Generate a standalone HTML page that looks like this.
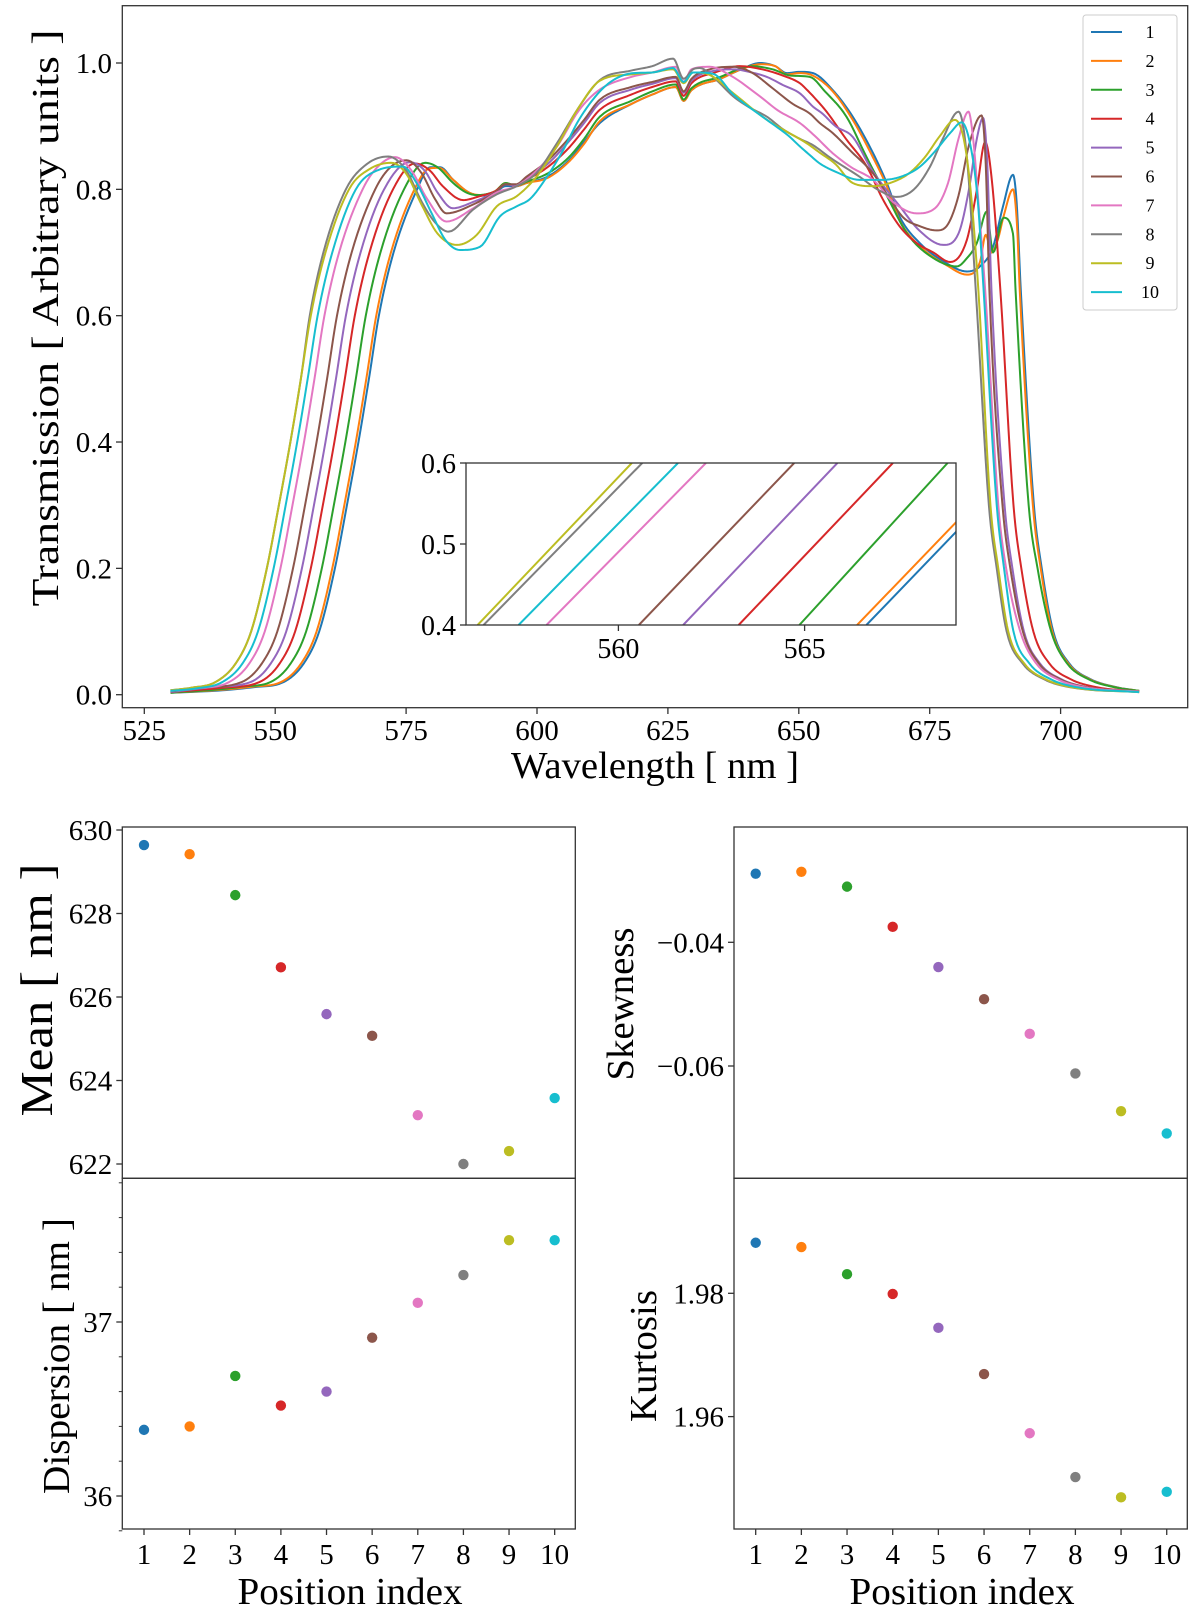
<!DOCTYPE html>
<html><head><meta charset="utf-8"><style>
html,body{margin:0;padding:0;background:#fff;}
svg{display:block;font-family:"Liberation Serif","DejaVu Serif",serif;}
</style></head><body>
<svg id="fig" xmlns="http://www.w3.org/2000/svg" width="1200" height="1618" viewBox="0 0 1200 1618">
<defs>
<clipPath id="mainClip"><rect x="122.3" y="5.7" width="1065.4" height="702"/></clipPath>
<clipPath id="insetClip"><rect x="466" y="463" width="490" height="162"/></clipPath>
</defs>
<g id="mainG"></g>
<g id="insetG"></g>
<g id="lowG"></g>
</svg>
<script>
const colors=["#1f77b4","#ff7f0e","#2ca02c","#d62728","#9467bd","#8c564b","#e377c2","#7f7f7f","#bcbd22","#17becf"];
const seriesNames=["1","2","3","4","5","6","7","8","9","10"];
const s1=[[530,0.003],[540,0.007],[546,0.012],[551.6,0.02],[555.5,0.05],[558.4,0.1],[561.4,0.2],[563.7,0.3],[565.9,0.4],[567.9,0.5],[569.8,0.6],[572.6,0.7],[577.1,0.8],[579.6,0.835],[581.5,0.835],[584,0.815],[587,0.795],[589.5,0.79],[592,0.795],[594,0.805],[596,0.805],[598,0.81],[602,0.82],[606,0.845],[609,0.875],[612,0.905],[618,0.935],[622,0.95],[626.5,0.962],[628,0.94],[629.5,0.957],[635,0.975],[639,0.99],[642.6,1.0],[645.5,0.995],[647.7,0.984],[650.2,0.986],[652.7,0.984],[656.5,0.957],[660.3,0.915],[664.2,0.857],[666.8,0.81],[669.3,0.756],[673.1,0.715],[678.2,0.683],[682.1,0.67],[684.6,0.678],[687.1,0.709],[689,0.773],[690.9,0.823],[691.6,0.78],[692.4,0.64],[694.9,0.3],[696.4,0.2],[698.6,0.1],[701.6,0.05],[705.6,0.025],[710.6,0.012],[715,0.006]];
const s2=[[530,0.003],[540,0.008],[546,0.013],[551.1,0.02],[555,0.05],[557.9,0.1],[560.9,0.2],[563.2,0.3],[565.4,0.4],[567.4,0.5],[569.3,0.6],[572.1,0.7],[576.6,0.8],[579.4,0.833],[581.3,0.834],[584,0.815],[587,0.795],[589.5,0.791],[592,0.797],[594,0.81],[596,0.805],[598,0.81],[602,0.818],[606,0.843],[609,0.872],[612,0.908],[618,0.935],[622,0.95],[626.5,0.962],[628,0.94],[629.5,0.957],[635,0.975],[639,0.99],[642.6,0.998],[645.5,0.995],[647.7,0.982],[650.2,0.984],[652.7,0.98],[656.5,0.955],[660.3,0.91],[664.2,0.85],[666.8,0.805],[669.3,0.75],[673.1,0.71],[678.2,0.68],[682.1,0.665],[684.6,0.685],[685.7,0.728],[686.8,0.70],[688,0.72],[689.2,0.76],[690.9,0.80],[691.7,0.74],[692.2,0.64],[694.7,0.3],[696.2,0.2],[698.4,0.1],[701.4,0.05],[705.4,0.025],[710.4,0.012],[715,0.006]];
const s3=[[530,0.003],[540,0.009],[544,0.013],[549.1,0.02],[553,0.05],[555.9,0.1],[558.9,0.2],[561.2,0.3],[563.4,0.4],[565.4,0.5],[567.3,0.6],[570.1,0.7],[574.6,0.8],[578.6,0.842],[581,0.835],[584,0.81],[586.5,0.795],[588.5,0.791],[592,0.797],[594,0.81],[596,0.806],[598,0.812],[602,0.825],[606,0.85],[609,0.88],[612,0.915],[618,0.94],[622,0.955],[626.5,0.966],[628,0.942],[629.5,0.96],[635,0.978],[641,0.995],[645,0.99],[648.5,0.98],[652.1,0.978],[655,0.955],[659.1,0.915],[663,0.85],[666.8,0.79],[670.7,0.73],[675,0.695],[680.2,0.678],[682,0.69],[684,0.715],[685.9,0.765],[687.1,0.70],[689.1,0.755],[690.9,0.73],[691.4,0.64],[693.9,0.3],[695.6,0.2],[698.2,0.1],[701.2,0.05],[705.2,0.025],[710.2,0.012],[715,0.006]];
const s4=[[530,0.004],[540,0.011],[547,0.02],[550.9,0.05],[553.8,0.1],[556.8,0.2],[559.1,0.3],[561.3,0.4],[563.3,0.5],[565.2,0.6],[568,0.7],[572.5,0.8],[576.7,0.841],[579.5,0.83],[582,0.805],[585.9,0.783],[589,0.789],[592,0.797],[594,0.808],[596,0.806],[598,0.815],[602,0.835],[606,0.865],[609,0.895],[612,0.926],[618,0.95],[622,0.962],[626.5,0.971],[628,0.948],[629.5,0.968],[634,0.985],[638.7,0.995],[643,0.99],[647,0.98],[650.2,0.968],[651.5,0.958],[653,0.945],[655.3,0.923],[659,0.88],[663,0.836],[666,0.785],[669.3,0.741],[672.5,0.715],[675.7,0.70],[678.9,0.685],[682.1,0.72],[684,0.799],[685.6,0.875],[686.8,0.82],[688.5,0.64],[691,0.3],[692.5,0.2],[694.8,0.1],[697.8,0.05],[701.8,0.025],[706.8,0.012],[715,0.005]];
const s5=[[530,0.004],[538,0.012],[545.3,0.02],[549.2,0.05],[552.1,0.1],[555.1,0.2],[557.4,0.3],[559.6,0.4],[561.6,0.5],[563.5,0.6],[566.3,0.7],[570.8,0.8],[575.7,0.843],[578.5,0.83],[581,0.795],[583.9,0.77],[587.8,0.78],[592.3,0.797],[594,0.808],[596,0.806],[598,0.818],[602,0.84],[606,0.875],[609,0.905],[612,0.937],[618,0.958],[622,0.967],[626.5,0.976],[628,0.953],[629.5,0.972],[634,0.988],[637.5,0.99],[641,0.985],[643.9,0.978],[647,0.965],[650.2,0.952],[652.7,0.931],[654.5,0.92],[657,0.90],[660.3,0.883],[664,0.83],[669.3,0.773],[673,0.735],[677.6,0.712],[680.5,0.73],[682.5,0.80],[684,0.88],[685.2,0.913],[686,0.84],[686.8,0.64],[689.3,0.3],[690.8,0.2],[693,0.1],[696,0.05],[700,0.025],[705,0.012],[715,0.005]];
const s6=[[530,0.005],[536,0.011],[543.6,0.02],[547.5,0.05],[550.4,0.1],[553.4,0.2],[555.7,0.3],[557.9,0.4],[559.9,0.5],[561.8,0.6],[564.6,0.7],[569.1,0.8],[572,0.835],[575.1,0.846],[578,0.825],[580.5,0.785],[582.7,0.762],[587.8,0.776],[592.3,0.797],[594,0.808],[596,0.808],[598,0.82],[602,0.845],[606,0.88],[609,0.91],[612,0.942],[618,0.962],[622,0.97],[626.5,0.978],[628,0.955],[629.5,0.975],[633,0.99],[637.5,0.994],[641,0.985],[645,0.96],[648.9,0.935],[652.1,0.92],[654,0.905],[656.5,0.889],[660,0.86],[664.2,0.825],[667,0.79],[670,0.755],[673,0.742],[676.3,0.735],[678.5,0.745],[680.5,0.79],[682.5,0.87],[684.9,0.917],[685.7,0.84],[686.4,0.64],[688.9,0.3],[690.4,0.2],[692.8,0.1],[695.8,0.05],[699.8,0.025],[704.8,0.012],[715,0.005]];
const s7=[[530,0.006],[535,0.01],[541.2,0.02],[545.1,0.05],[548,0.1],[551,0.2],[553.3,0.3],[555.5,0.4],[557.5,0.5],[559.4,0.6],[562.2,0.7],[566.7,0.8],[569.5,0.835],[572.9,0.851],[576,0.83],[579,0.785],[582.7,0.749],[587.8,0.77],[592.3,0.795],[596,0.805],[600,0.83],[604,0.87],[608,0.925],[612,0.958],[618,0.978],[622,0.985],[626.5,0.994],[628,0.97],[629.5,0.99],[633,0.994],[637,0.98],[642.6,0.947],[646,0.925],[650.2,0.905],[653,0.885],[656.5,0.857],[660,0.835],[664.2,0.815],[668,0.78],[672.5,0.762],[676,0.77],[678.5,0.81],[680.5,0.88],[682.4,0.923],[683.3,0.88],[684.3,0.78],[685.6,0.64],[688.1,0.3],[689.6,0.2],[692.3,0.1],[695.3,0.05],[699.3,0.025],[704.3,0.012],[715,0.005]];
const s8=[[530,0.007],[534,0.011],[538.6,0.02],[542.5,0.05],[545.4,0.1],[548.4,0.2],[550.7,0.3],[552.9,0.4],[554.9,0.5],[556.6,0.6],[559.2,0.7],[563.5,0.8],[567.5,0.84],[571.6,0.852],[575,0.83],[578,0.78],[580.5,0.748],[583.1,0.733],[587.8,0.768],[592.3,0.792],[596.1,0.805],[599.9,0.826],[603.8,0.873],[608,0.93],[612,0.973],[618,0.988],[622,0.995],[626,1.007],[628,0.975],[629.8,0.99],[631.1,0.992],[634,0.975],[637.5,0.947],[640.5,0.93],[643.9,0.915],[647,0.895],[650.2,0.88],[652.7,0.87],[656,0.85],[661.6,0.82],[665,0.80],[668.7,0.788],[672,0.80],[675,0.835],[677.5,0.88],[680.5,0.923],[682,0.86],[683.8,0.64],[686.3,0.3],[687.8,0.2],[689.7,0.1],[692.7,0.05],[696.7,0.025],[701.7,0.012],[715,0.004]];
const s9=[[530,0.007],[534,0.011],[538.6,0.02],[542.5,0.05],[545.4,0.1],[548.4,0.2],[550.7,0.3],[552.9,0.4],[554.9,0.5],[556.8,0.6],[559.6,0.7],[564.1,0.8],[568,0.832],[572.2,0.842],[575,0.825],[578,0.775],[581,0.73],[584.7,0.712],[588.5,0.728],[592.3,0.773],[596.1,0.789],[599.9,0.82],[603.8,0.868],[608,0.93],[612,0.972],[618,0.982],[622,0.985],[626,0.99],[628,0.968],[629.8,0.985],[633,0.981],[637.5,0.952],[643.9,0.91],[648,0.89],[651.5,0.873],[654,0.858],[657,0.84],[660.3,0.81],[664,0.805],[667.4,0.81],[671,0.825],[674,0.85],[677,0.885],[679.8,0.91],[681.5,0.88],[682.8,0.80],[684.3,0.64],[686.6,0.3],[688.1,0.2],[690,0.1],[693,0.05],[697,0.025],[702,0.012],[715,0.004]];
const s10=[[530,0.006],[535,0.01],[539.9,0.02],[543.8,0.05],[546.7,0.1],[549.7,0.2],[552,0.3],[554.2,0.4],[556.2,0.5],[558.1,0.6],[560.9,0.7],[565.4,0.8],[569.5,0.83],[574.4,0.836],[577,0.81],[580,0.76],[582.5,0.72],[585.3,0.704],[589.1,0.709],[592.9,0.757],[596.1,0.773],[598.7,0.785],[601.9,0.82],[605,0.862],[608,0.91],[612,0.955],[615,0.975],[618.4,0.984],[622,0.985],[626,0.992],[628,0.97],[629.8,0.985],[633.6,0.983],[637.5,0.95],[643.9,0.91],[648,0.885],[650.2,0.868],[652,0.855],[654,0.841],[657,0.828],[661.6,0.815],[666,0.815],[669.5,0.82],[673,0.835],[676,0.86],[679,0.89],[681.1,0.906],[683,0.86],[684.2,0.78],[685.3,0.64],[687.8,0.3],[689.2,0.2],[691,0.1],[694,0.05],[698,0.025],[703,0.012],[715,0.004]];
const allSeries=[s1,s2,s3,s4,s5,s6,s7,s8,s9,s10];
const xTicks=[525,550,575,600,625,650,675,700];
const yTicks=[0.0,0.2,0.4,0.6,0.8,1.0];
// inset: wavelength where each series crosses 0.4 and 0.6
const insetCross04=[566.66,566.41,564.86,563.23,561.74,560.55,558.07,556.38,556.22,557.32];
const insetCross06=[570.85,570.6,568.84,567.37,565.88,564.72,562.35,560.64,560.36,561.6];
const insetXTicks=[560,565];
const insetYTicks=[0.4,0.5,0.6];
// lower panels
const positions=[1,2,3,4,5,6,7,8,9,10];
const meanVals=[629.64,629.42,628.44,626.71,625.59,625.07,623.17,622.0,622.31,623.58];
const dispVals=[36.38,36.40,36.69,36.52,36.60,36.91,37.11,37.27,37.47,37.47];
const skewVals=[-0.0289,-0.0286,-0.0310,-0.0375,-0.0440,-0.0492,-0.0548,-0.0612,-0.0673,-0.0709];
const kurtVals=[1.9882,1.9875,1.9831,1.9799,1.9744,1.9669,1.9573,1.9502,1.9469,1.9478];
const meanTicks=[622,624,626,628,630];
const dispTicks=[36,37];
const skewTicks=[-0.04,-0.06];
const kurtTicks=[1.96,1.98];

const NS="http://www.w3.org/2000/svg";
function mk(parent,tag,attrs,text){const e=document.createElementNS(NS,tag);for(const k in attrs)e.setAttribute(k,attrs[k]);if(text!==undefined)e.textContent=text;parent.appendChild(e);return e;}
function fmt(v,d){let s=v.toFixed(d);if(v<0)s="\u2212"+s.slice(1);return s;}

const xS=nm=>144.3+(nm-525)*5.236;
const yS=v=>694.7-v*631.7;

function monoPath(pts,fx,fy){
  const n=pts.length,xs=pts.map(p=>p[0]),ys=pts.map(p=>p[1]);
  const d=[],m=new Array(n);
  for(let i=0;i<n-1;i++)d.push((ys[i+1]-ys[i])/(xs[i+1]-xs[i]));
  m[0]=d[0];m[n-1]=d[n-2];
  for(let i=1;i<n-1;i++){m[i]=(d[i-1]*d[i]<=0)?0:(d[i-1]+d[i])/2;}
  for(let i=0;i<n-1;i++){if(d[i]===0){m[i]=0;m[i+1]=0;continue;}const a=m[i]/d[i],b=m[i+1]/d[i],h=a*a+b*b;if(h>9){const t=3/Math.sqrt(h);m[i]=t*a*d[i];m[i+1]=t*b*d[i];}}
  let s="M"+fx(xs[0]).toFixed(2)+","+fy(ys[0]).toFixed(2);
  for(let i=0;i<n-1;i++){const h=xs[i+1]-xs[i];
    for(let k=1;k<=8;k++){const t=k/8,t2=t*t,t3=t2*t;
      const y=(2*t3-3*t2+1)*ys[i]+(t3-2*t2+t)*h*m[i]+(-2*t3+3*t2)*ys[i+1]+(t3-t2)*h*m[i+1];
      s+="L"+fx(xs[i]+t*h).toFixed(2)+","+fy(y).toFixed(2);}}
  return s;
}

// ===== main chart =====
const mainG=document.getElementById('mainG');
const lines=mk(mainG,'g',{'clip-path':'url(#mainClip)'});


allSeries.forEach((ser,i)=>{
  const p=mk(lines,'path',{d:monoPath(ser,xS,yS),fill:'none',stroke:colors[i],'stroke-width':2,'stroke-linejoin':'round'});
  
  
});
const frame=mk(mainG,'rect',{x:122.3,y:5.7,width:1065.4,height:702,fill:'none',stroke:'#333','stroke-width':1.3});


xTicks.forEach(t=>{const x=xS(t);
  mk(mainG,'line',{x1:x,x2:x,y1:707.7,y2:714,stroke:'#333','stroke-width':1.3});
  const tx=mk(mainG,'text',{x:x,y:740,'font-size':29,'text-anchor':'middle'},String(t));
  
  
});
yTicks.forEach(t=>{const y=yS(t);
  mk(mainG,'line',{x1:116,x2:122.3,y1:y,y2:y,stroke:'#333','stroke-width':1.3});
  const tx=mk(mainG,'text',{x:112,y:y+10,'font-size':29,'text-anchor':'end'},t.toFixed(1));
  
  
});
const xt=mk(mainG,'text',{x:655,y:778,'font-size':38,'text-anchor':'middle',textLength:288,lengthAdjust:'spacingAndGlyphs'},'Wavelength [ nm ]');


const yt=mk(mainG,'text',{x:0,y:0,'font-size':38,'text-anchor':'middle',textLength:577,lengthAdjust:'spacingAndGlyphs',transform:'translate(58,318) rotate(-90)'},'Transmission [ Arbitrary units ]');


// legend
const leg=mk(mainG,'g',{});


mk(leg,'rect',{x:1083,y:15,width:94,height:295,rx:3,fill:'#fff','fill-opacity':0.85,stroke:'#ccc','stroke-width':1});
seriesNames.forEach((nm,i)=>{const y=32+28.9*i;
  const g=mk(leg,'g',{});
  
  
  mk(g,'line',{x1:1091,x2:1122,y1:y,y2:y,stroke:colors[i],'stroke-width':2});
  mk(g,'text',{x:1150,y:y+6,'font-size':18,'text-anchor':'middle'},nm);
});

// ===== inset =====
const insetG=document.getElementById('insetG');
const xI=nm=>618.4+(nm-560)*37.24;
const yI=v=>625-(v-0.4)*810;
mk(insetG,'rect',{x:466,y:463,width:490,height:162,fill:'#fff'});
const il=mk(insetG,'g',{'clip-path':'url(#insetClip)'});
insetCross04.forEach((c4,i)=>{
  const ln=mk(il,'line',{x1:xI(c4),y1:yI(0.4),x2:xI(insetCross06[i]),y2:yI(0.6),stroke:colors[i],'stroke-width':2});
  
  
});
mk(insetG,'rect',{x:466,y:463,width:490,height:162,fill:'none',stroke:'#333','stroke-width':1.3});
insetXTicks.forEach(t=>{const x=xI(t);
  mk(insetG,'line',{x1:x,x2:x,y1:625,y2:631,stroke:'#333','stroke-width':1.3});
  const tx=mk(insetG,'text',{x:x,y:658,'font-size':28,'text-anchor':'middle'},String(t));
  
  
});
insetYTicks.forEach(t=>{const y=yI(t);
  mk(insetG,'line',{x1:460,x2:466,y1:y,y2:y,stroke:'#333','stroke-width':1.3});
  const tx=mk(insetG,'text',{x:456,y:y+10,'font-size':28,'text-anchor':'end'},t.toFixed(1));
  
  
});

// ===== lower panels =====
const lowG=document.getElementById('lowG');
const xL=i=>144+(i-1)*45.63;
const xR=i=>755.7+(i-1)*45.67;
const yMean=v=>830+(630-v)*41.75;
const yDisp=v=>1322+(37-v)*174;
const ySkew=v=>942.3+(-0.04-v)*6185;
const yKurt=v=>1293.3+(1.98-v)*6165;
function panel(name,x0,y0,w,h,vals,fx,fy,ticks,dec,minor){
  const g=mk(lowG,'g',{});
  
  
  vals.forEach((v,i)=>{
    const c=mk(g,'circle',{cx:fx(positions[i]),cy:fy(v),r:5.2,fill:colors[i]});
    
    
  });
  mk(g,'rect',{x:x0,y:y0,width:w,height:h,fill:'none',stroke:'#333','stroke-width':1.3});
  ticks.forEach(t=>{const y=fy(t);
    mk(g,'line',{x1:x0-6,x2:x0,y1:y,y2:y,stroke:'#333','stroke-width':1.3});
    const tx=mk(g,'text',{x:x0-10,y:y+10,'font-size':29,'text-anchor':'end'},fmt(t,dec));
    
    
  });
  if(minor)minor.forEach(t=>{const y=fy(t);mk(g,'line',{x1:x0-3.5,x2:x0,y1:y,y2:y,stroke:'#333','stroke-width':1});});
  return g;
}
const dispMinor=[35.8,36.2,36.4,36.6,36.8,37.2,37.4,37.6,37.8];
panel('mean',122.3,827,453,351.3,meanVals,xL,yMean,meanTicks,0,null);
panel('dispersion',122.3,1178.3,453,350.7,dispVals,xL,yDisp,dispTicks,0,dispMinor);
panel('skewness',734,827,453.3,351.3,skewVals,xR,ySkew,skewTicks,2,null);
panel('kurtosis',734,1178.3,453.3,350.7,kurtVals,xR,yKurt,kurtTicks,2,null);
[[xL,'left'],[xR,'right']].forEach(([fx,side])=>{
  positions.forEach(p=>{const x=fx(p);
    mk(lowG,'line',{x1:x,x2:x,y1:1529,y2:1535,stroke:'#333','stroke-width':1.3});
    const tx=mk(lowG,'text',{x:x,y:1564,'font-size':29,'text-anchor':'middle'},String(p));
    
    
  });
});
function lbl(name,txt,x,y,size,len,rot){
  const a={x:0,y:0,'font-size':size,'text-anchor':'middle',textLength:len,lengthAdjust:'spacingAndGlyphs',transform:'translate('+x+','+y+')'+(rot?' rotate(-90)':'')};
  const t=mk(lowG,'text',a,txt);
  
  
}
lbl('mean-y-axis-title','Mean [ nm ]',52,990,46,253,true);
lbl('dispersion-y-axis-title','Dispersion [ nm ]',69,1356,38,276,true);
lbl('skewness-y-axis-title','Skewness',633,1004,38,153,true);
lbl('kurtosis-y-axis-title','Kurtosis',656,1356,38,132,true);
lbl('left-x-axis-title','Position index',350,1604,38,225,false);
lbl('right-x-axis-title','Position index',962,1604,38,225,false);
</script>
</body></html>
